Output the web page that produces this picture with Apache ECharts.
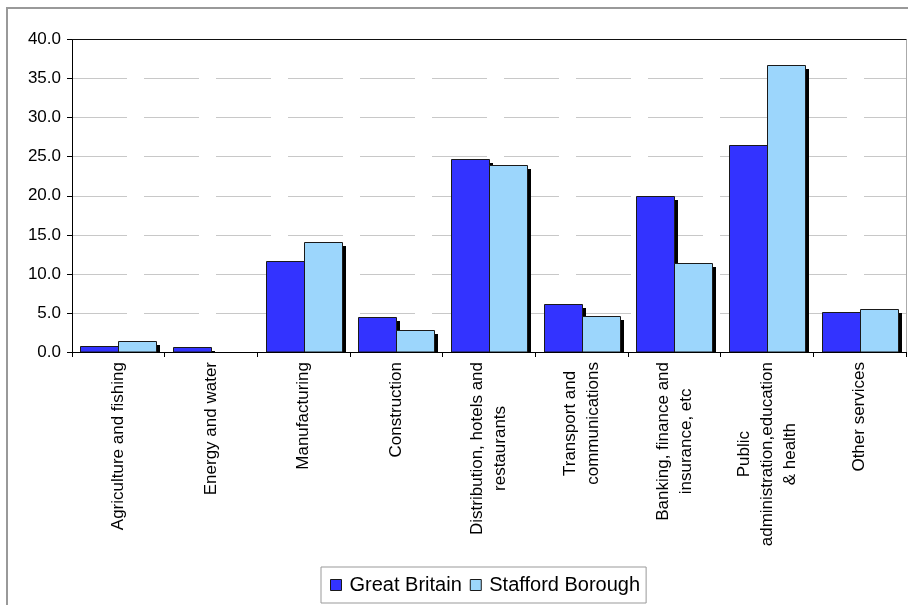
<!DOCTYPE html>
<html>
<head>
<meta charset="utf-8">
<script src="https://cdn.jsdelivr.net/npm/echarts@6/dist/echarts.min.js"></script>
<style>
html,body{margin:0;padding:0;background:#fff;}
#chart{width:908px;height:605px;}
</style>
</head>
<body>
<div id="chart"></div>
<script>
var categories = [
  'Agriculture and fishing',
  'Energy and water',
  'Manufacturing',
  'Construction',
  'Distribution, hotels and\nrestaurants',
  'Transport and\ncommunications',
  'Banking, finance and\ninsurance, etc',
  'Public\nadministration,education\n& health',
  'Other services'
];
var seriesNames = ['Great Britain', 'Stafford Borough'];
var greatBritain = [0.8, 0.6, 11.7, 4.5, 24.7, 6.1, 20.0, 26.5, 5.1];
var staffordBorough = [1.4, 0.0, 14.1, 2.8, 23.9, 4.6, 11.4, 36.7, 5.5];
var yMin = 0, yMax = 40, yStep = 5;

var chart = echarts.init(document.getElementById('chart'), null, {renderer: 'canvas'});
var FONT = '"Liberation Sans", Arial, Helvetica, sans-serif';
var COLORS = ['#3333ff', '#9cd6fc'];
var GAP_FRAC = 0.18;
var SHADOW = 4;

function makeRender(slot) {
  return function (params, api) {
    var i = api.value(0), v = api.value(1);
    if (!(v > 0)) { return null; }
    var top = api.coord([i, v]);
    var base = api.coord([i, 0]);
    var band = api.size([1, 0])[0];
    var w = Math.round(band * (1 - GAP_FRAC) / 2);
    var cx = top[0];
    var x = Math.round(slot === 0 ? cx - w : cx) + 0.5;
    var y = Math.round(top[1]) + 0.5;
    var yb = Math.round(base[1]);
    var h = yb - y;
    return {
      type: 'group',
      children: [{
        type: 'rect',
        shape: {x: x + SHADOW - 0.5, y: y + SHADOW - 0.5, width: w, height: Math.max(0, h - SHADOW + 0.5)},
        style: {fill: '#000'}
      }, {
        type: 'rect',
        shape: {x: x, y: y, width: w, height: h},
        style: {fill: COLORS[slot], stroke: '#1a1a1a', lineWidth: 1}
      }]
    };
  };
}

function toPairs(arr) { return arr.map(function (v, i) { return [i, v]; }); }

var option = {
  animation: false,
  backgroundColor: '#fff',
  textStyle: {fontFamily: FONT},
  graphic: [{
    type: 'rect',
    silent: true,
    z: 0,
    shape: {x: 7, y: 8, width: 1000, height: 1000},
    style: {fill: 'none', stroke: '#999', lineWidth: 2}
  }],
  grid: {left: 72, top: 39.5, right: 2, bottom: 253, containLabel: false},
  legend: {
    data: seriesNames,
    left: 321,
    top: 567,
    orient: 'horizontal',
    icon: 'rect',
    itemWidth: 11,
    itemHeight: 11,
    itemGap: 8,
    padding: [8, 6, 8, 9],
    borderColor: '#999',
    borderWidth: 1,
    backgroundColor: '#fff',
    itemStyle: {borderColor: '#1a1a1a', borderWidth: 1},
    textStyle: {fontSize: 20, color: '#000', fontFamily: FONT, padding: [0, 0, 0, 3]}
  },
  xAxis: [{
    type: 'category',
    data: categories,
    position: 'bottom',
    boundaryGap: true,
    axisLine: {show: true, onZero: false, lineStyle: {color: '#000', width: 1}},
    axisTick: {show: true, inside: false, length: 5, alignWithLabel: false, interval: 0, lineStyle: {color: '#000'}},
    axisLabel: {
      interval: 0,
      rotate: 90,
      margin: 10,
      color: '#000',
      fontSize: 17,
      fontFamily: FONT,
      formatter: function (v) {
        return v.split('\n').map(function (s) { return '{c|' + s + '}'; }).join('\n');
      },
      rich: {c: {align: 'center', fontSize: 17, lineHeight: 23, color: '#000', fontFamily: FONT}}
    },
    splitLine: {show: false}
  }, {
    type: 'category',
    data: categories,
    position: 'top',
    axisLine: {show: true, onZero: false, lineStyle: {color: '#111', width: 1}},
    axisTick: {show: false},
    axisLabel: {show: false},
    splitLine: {show: false}
  }],
  yAxis: [{
    type: 'value',
    min: yMin,
    max: yMax,
    interval: yStep,
    position: 'left',
    axisLine: {show: true, onZero: false, lineStyle: {color: '#000', width: 1}},
    axisTick: {show: true, inside: false, length: 5, lineStyle: {color: '#000'}},
    axisLabel: {
      margin: 11,
      color: '#000',
      fontSize: 17,
      fontFamily: FONT,
      formatter: function (v) { return v.toFixed(1); }
    },
    splitLine: {show: true, lineStyle: {color: '#c8c8c8', width: 1, type: [55, 17], dashOffset: 0}}
  }, {
    type: 'value',
    min: yMin,
    max: yMax,
    interval: yStep,
    position: 'right',
    axisLine: {show: true, onZero: false, lineStyle: {color: '#aaa', width: 1}},
    axisTick: {show: false},
    axisLabel: {show: false},
    splitLine: {show: false}
  }],
  series: [{
    name: seriesNames[0],
    type: 'custom',
    data: toPairs(greatBritain),
    encode: {x: 0, y: 1},
    xAxisIndex: 0,
    yAxisIndex: 0,
    clip: true,
    itemStyle: {color: COLORS[0], borderColor: '#1a1a1a', borderWidth: 1},
    renderItem: makeRender(0)
  }, {
    name: seriesNames[1],
    type: 'custom',
    data: toPairs(staffordBorough),
    encode: {x: 0, y: 1},
    xAxisIndex: 0,
    yAxisIndex: 0,
    clip: true,
    itemStyle: {color: COLORS[1], borderColor: '#1a1a1a', borderWidth: 1},
    renderItem: makeRender(1)
  }]
};
chart.setOption(option);
</script>
</body>
</html>
